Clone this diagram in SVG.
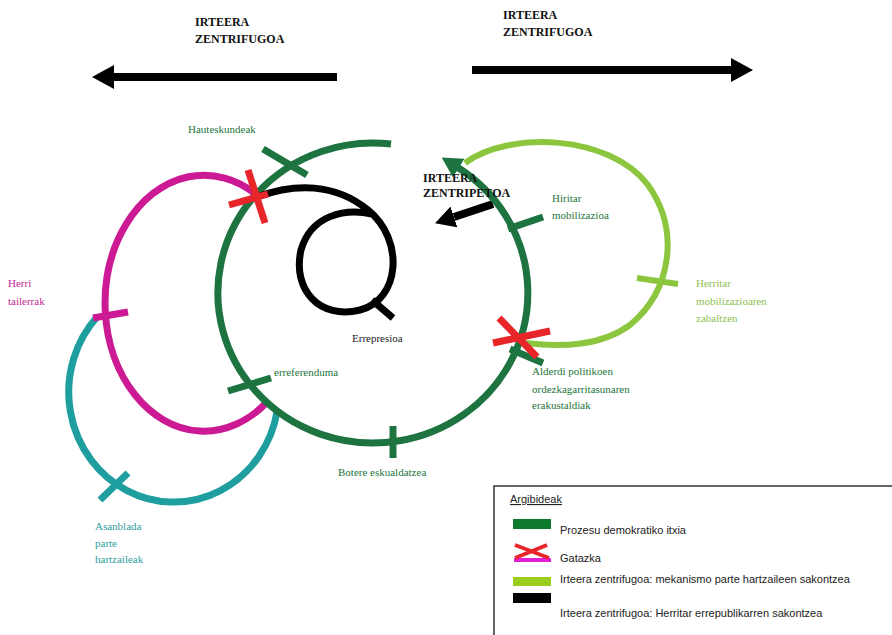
<svg xmlns="http://www.w3.org/2000/svg" width="892" height="635" viewBox="0 0 892 635">
<style>
.bt{font-family:"Liberation Serif",serif;font-weight:bold;font-size:12px;fill:#111}
.lb{font-family:"Liberation Serif",serif;font-size:11px}
.g{fill:#23763b}
.lg{fill:#8dc151}
.tl{fill:#2f9c9c}
.mg{fill:#c2288f}
.lt{font-family:"Liberation Sans",sans-serif;font-size:11px;fill:#222}
.dg{fill:none;stroke:#1d7440;stroke-width:7}
.tk{stroke-width:7;fill:none}
.rx{stroke:#e8262a;stroke-width:7}
</style>
<defs>
<marker id="ahB" viewBox="0 0 22 24" refX="0" refY="12" markerWidth="22" markerHeight="24" markerUnits="userSpaceOnUse" orient="auto"><path d="M0,0 L22,12 L0,24 z" fill="#000"/></marker>
<marker id="ahB2" viewBox="0 0 20 22" refX="0" refY="11" markerWidth="20" markerHeight="22" markerUnits="userSpaceOnUse" orient="auto"><path d="M0,0 L20,11 L0,22 z" fill="#000"/></marker>
<marker id="ahG" viewBox="0 0 20 22" refX="2" refY="11" markerWidth="20" markerHeight="22" markerUnits="userSpaceOnUse" orient="auto"><path d="M0,0 L20,11 L0,22 z" fill="#1d7440"/></marker>
</defs>
<rect width="892" height="635" fill="#fff"/>

<g id="titles">
<text class="bt" x="195" y="26">IRTEERA</text>
<text class="bt" x="195" y="43">ZENTRIFUGOA</text>
<text class="bt" x="503" y="19">IRTEERA</text>
<text class="bt" x="503" y="36">ZENTRIFUGOA</text>
</g>

<g id="connectors">
<line x1="337" y1="77" x2="114" y2="77" stroke="#000" stroke-width="8" marker-end="url(#ahB)"/>
<line x1="472" y1="70" x2="731" y2="70" stroke="#000" stroke-width="8" marker-end="url(#ahB)"/>
<line x1="493" y1="204" x2="454" y2="217" stroke="#000" stroke-width="8" marker-end="url(#ahB2)"/>
</g>

<g id="teal-cycle">
<path d="M 97 317 A 105 110 0 1 0 277 412" fill="none" stroke="#1f9ea0" stroke-width="7"/>
<line x1="100" y1="500" x2="128" y2="473" stroke="#1f9ea0" class="tk"/>
<text class="lb tl" x="95" y="530">Asanblada</text>
<text class="lb tl" x="95" y="547">parte</text>
<text class="lb tl" x="95" y="563">hartzaileak</text>
</g>

<g id="magenta-cycle">
<path d="M 257 195 A 99 128 0 1 0 267 402" fill="none" stroke="#cc1a94" stroke-width="7"/>
<line x1="93" y1="318" x2="128" y2="312" stroke="#cc1a94" class="tk"/>
<text class="lb mg" x="8" y="287">Herri</text>
<text class="lb mg" x="8" y="305">tailerrak</text>
</g>

<g id="green-cycle">
<path d="M 391 144 A 155 150 0 1 0 457 167" class="dg" marker-end="url(#ahG)"/>
<line x1="263" y1="149" x2="307" y2="175" stroke="#1d7440" class="tk"/>
<line x1="228" y1="391" x2="271" y2="378" stroke="#1d7440" class="tk"/>
<line x1="393" y1="426" x2="393" y2="458" stroke="#1d7440" class="tk"/>
<line x1="508" y1="229" x2="543" y2="217" stroke="#1d7440" class="tk"/>
<line x1="510" y1="349" x2="543" y2="363" stroke="#1d7440" class="tk"/>
<text class="lb g" x="188" y="133">Hauteskundeak</text>
<text class="lb g" x="274" y="376">erreferenduma</text>
<text class="lb g" x="338" y="476">Botere eskualdatzea</text>
<text class="lb g" x="552" y="202">Hiritar</text>
<text class="lb g" x="552" y="219">mobilizazioa</text>
<text class="lb g" x="532" y="375">Alderdi politikoen</text>
<text class="lb g" x="532" y="393">ordezkagarritasunaren</text>
<text class="lb g" x="532" y="409">erakustaldiak</text>
</g>

<g id="lightgreen-cycle">
<path d="M 465 163 C 510 130, 610 135, 648 185 C 680 230, 672 290, 630 325 C 600 347, 560 347, 525 343" fill="none" stroke="#8cc63e" stroke-width="6"/>
<line x1="637" y1="278" x2="678" y2="284" stroke="#8cc63e" stroke-width="6"/>
<text class="lb lg" x="696" y="287">Herritar</text>
<text class="lb lg" x="696" y="305">mobilizazioaren</text>
<text class="lb lg" x="696" y="322">zabaltzen</text>
</g>

<g id="repression">
<path d="M 257 197 C 295 183, 335 183, 368 210 C 405 240, 400 300, 360 310 C 320 320, 292 290, 301 250 C 311 215, 345 208, 372 214" fill="none" stroke="#000" stroke-width="7"/>
<line x1="372" y1="300" x2="393" y2="318" stroke="#000" stroke-width="7"/>
<text class="lb" x="352" y="342" fill="#222">Errepresioa</text>
</g>

<g id="conflicts">
<line x1="248" y1="170" x2="265" y2="223" class="rx"/>
<line x1="229" y1="205" x2="268" y2="194" class="rx"/>
<line x1="493" y1="343" x2="550" y2="331" class="rx"/>
<line x1="499" y1="318" x2="537" y2="357" class="rx"/>
</g>

<g id="centripetal-label">
<text class="bt" x="423" y="182">IRTEERA</text>
<text class="bt" x="423" y="197">ZENTRIPETOA</text>
</g>

<g id="legend">
<rect x="494" y="486" width="420" height="170" fill="#fff" stroke="#333" stroke-width="1.5"/>
<text class="lt" x="510" y="503" text-decoration="underline">Argibideak</text>
<rect x="513" y="519" width="38" height="10" fill="#0e7a2c"/>
<text class="lt" x="560" y="534">Prozesu demokratiko itxia</text>
<line x1="514" y1="560" x2="551" y2="560" stroke="#e020d8" stroke-width="4"/>
<line x1="515" y1="545" x2="549" y2="558" stroke="#e8262a" stroke-width="4"/>
<line x1="515" y1="558" x2="547" y2="545" stroke="#e8262a" stroke-width="4"/>
<text class="lt" x="560" y="562">Gatazka</text>
<rect x="513" y="577" width="38" height="9" fill="#9acd1e"/>
<rect x="513" y="593" width="38" height="10" fill="#000"/>
<text class="lt" x="560" y="583">Irteera zentrifugoa: mekanismo parte hartzaileen sakontzea</text>
<text class="lt" x="560" y="617">Irteera zentrifugoa: Herritar errepublikarren sakontzea</text>
</g>
</svg>
